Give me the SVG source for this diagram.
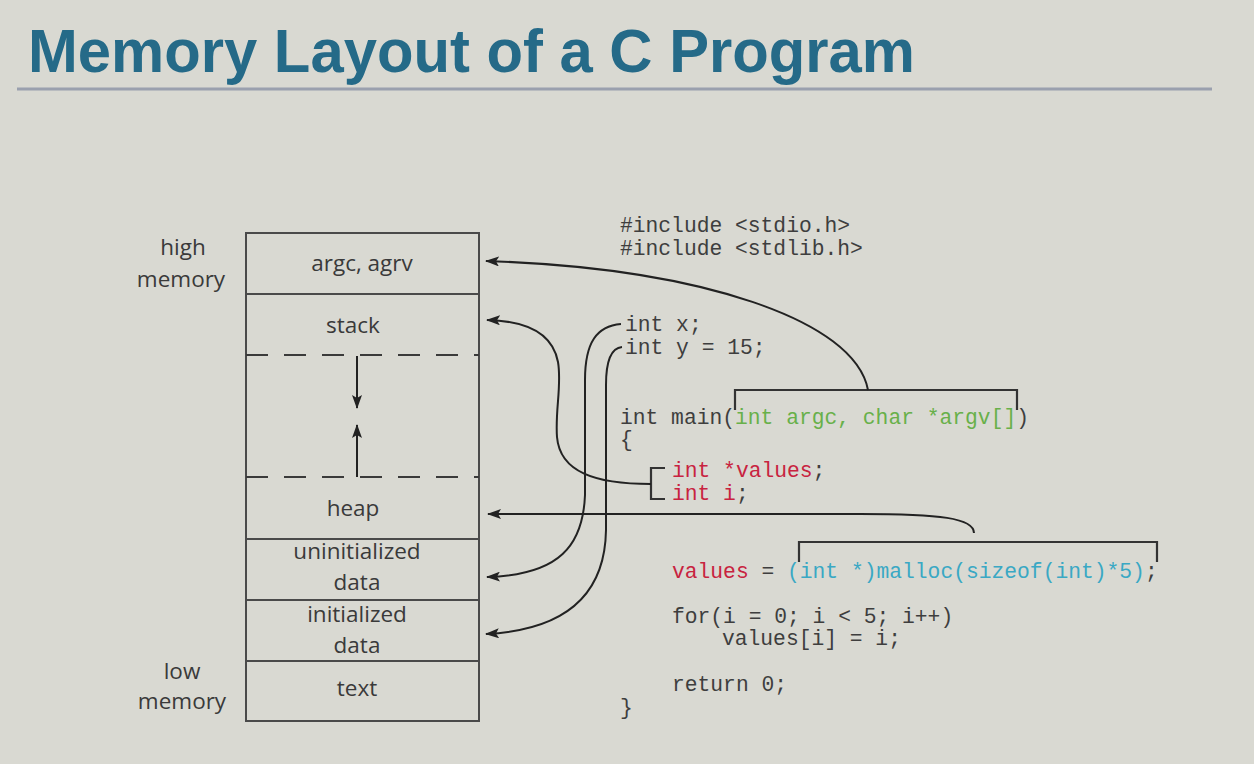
<svg xmlns="http://www.w3.org/2000/svg" width="1254" height="764" viewBox="0 0 1254 764">
<defs>
<style>
.seg{fill:none;stroke:#4a4a4a;stroke-width:2}
.dash{stroke:#3a3a3a;stroke-width:2;stroke-dasharray:22 16}
.lbl{font-family:"Open Sans","Noto Sans",sans-serif;font-size:22.5px;fill:#3a3a3a;text-anchor:middle}
.code{font-family:"Liberation Mono","Courier New",monospace;font-size:21.3px;fill:#3e3e3e}
.red{fill:#c8233f}
.grn{fill:#68b04a}
.cyn{fill:#3aa8c4}
.con{fill:none;stroke:#222;stroke-width:2}
.brk{fill:none;stroke:#333;stroke-width:2.2}
</style>
<marker id="ah" viewBox="0 0 14 10" refX="13" refY="5" markerWidth="14" markerHeight="10" markerUnits="userSpaceOnUse" orient="auto">
<path d="M0,0 L14,5 L0,10 L3,5 z" fill="#222"/>
</marker>
</defs>
<rect x="0" y="0" width="1254" height="764" fill="#d9d9d2"/>
<g id="title">
<text x="28" y="72" font-family="Liberation Sans,Arial,sans-serif" font-weight="bold" font-size="62" fill="#256a88" textLength="887" lengthAdjust="spacingAndGlyphs">Memory Layout of a C Program</text>
<line x1="17" y1="89" x2="1212" y2="89" stroke="#9aa0ae" stroke-width="3"/>
</g>
<g id="labels">
<text class="lbl" x="183" y="255">high</text>
<text class="lbl" x="181" y="287">memory</text>
<text class="lbl" x="182" y="679">low</text>
<text class="lbl" x="182" y="709">memory</text>
</g>
<g id="seg-argc">
<rect class="seg" x="246" y="233" width="233" height="61"/>
<text class="lbl" x="362" y="271">argc, agrv</text>
</g>
<g id="seg-stack">
<line class="seg" x1="246" y1="294" x2="246" y2="539"/>
<line class="seg" x1="479" y1="294" x2="479" y2="539"/>
<text class="lbl" x="353" y="333">stack</text>
<line class="dash" x1="246" y1="355" x2="479" y2="355"/>
<line class="con" x1="357" y1="356" x2="357" y2="408" marker-end="url(#ah)"/>
<line class="con" x1="357" y1="477" x2="357" y2="425" marker-end="url(#ah)"/>
<line class="dash" x1="246" y1="477" x2="479" y2="477" stroke-width="1.6"/>
</g>
<g id="seg-heap">
<text class="lbl" x="353" y="516">heap</text>
</g>
<g id="seg-uninit">
<rect class="seg" x="246" y="539" width="233" height="61"/>
<text class="lbl" x="357" y="559">uninitialized</text>
<text class="lbl" x="357" y="590">data</text>
</g>
<g id="seg-init">
<rect class="seg" x="246" y="600" width="233" height="61"/>
<text class="lbl" x="357" y="622">initialized</text>
<text class="lbl" x="357" y="653">data</text>
</g>
<g id="seg-text">
<rect class="seg" x="246" y="661" width="233" height="60"/>
<text class="lbl" x="357" y="696">text</text>
</g>
<g id="code">
<text class="code" x="620" y="232">#include &lt;stdio.h&gt;</text>
<text class="code" x="620" y="255">#include &lt;stdlib.h&gt;</text>
<text class="code" x="625" y="331">int x;</text>
<text class="code" x="625" y="354">int y = 15;</text>
<text class="code" x="620" y="424">int main(<tspan class="grn">int argc, char *argv[]</tspan>)</text>
<text class="code" x="620" y="446">{</text>
<text class="code" x="672" y="477"><tspan class="red">int *values</tspan>;</text>
<text class="code" x="672" y="500"><tspan class="red">int i</tspan>;</text>
<text class="code" x="672" y="578"><tspan class="red">values</tspan> = <tspan class="cyn">(int *)malloc(sizeof(int)*5)</tspan>;</text>
<text class="code" x="672" y="623">for(i = 0; i &lt; 5; i++)</text>
<text class="code" x="722" y="645">values[i] = i;</text>
<text class="code" x="672" y="691">return 0;</text>
<text class="code" x="620" y="714">}</text>
</g>
<g id="brackets">
<path class="brk" d="M735,410 L735,390 L1017,390 L1017,410"/>
<path class="brk" d="M665,468 L651,468 L651,499 L665,499"/>
<path class="brk" d="M799,562 L799,542 L1157,542 L1157,562"/>
</g>
<g id="connectors">
<path class="con" d="M868,390 C855,320 700,268 486,261" marker-end="url(#ah)"/>
<path class="con" d="M651,484 C595,484 560,472 557,437 C555,410 562,385 558,362 C553,335 530,321 487,320" marker-end="url(#ah)"/>
<path class="con" d="M974,533 C974,518 940,514 860,514 L488,514" marker-end="url(#ah)"/>
<path class="con" d="M621,324 C597,326 585,342 585,380 L585,495 C583,545 560,575 487,577" marker-end="url(#ah)"/>
<path class="con" d="M622,347 C611,348 606,360 606,385 L606,530 C605,595 565,630 486,634" marker-end="url(#ah)"/>
</g>
</svg>
